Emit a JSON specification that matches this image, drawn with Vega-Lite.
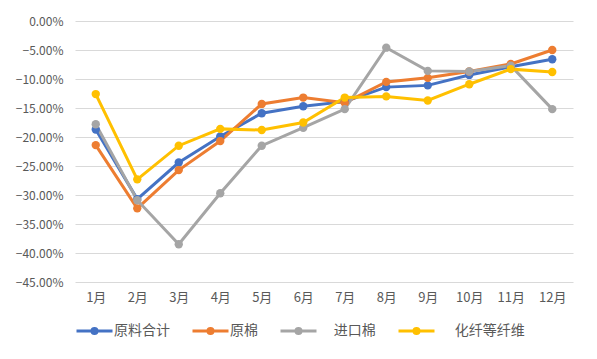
{
  "$schema": "https://vega.github.io/schema/vega-lite/v6.json",
  "width": 498,
  "height": 261,
  "autosize": "none",
  "padding": {"left": 75, "top": 21, "right": 24, "bottom": 77},
  "background": "white",
  "config": {
    "view": {"stroke": null},
    "font": "Noto Sans CJK SC"
  },
  "datasets": {
    "d": [
      {"m": "1月", "s": "原料合计", "v": -0.187},
      {"m": "2月", "s": "原料合计", "v": -0.307},
      {"m": "3月", "s": "原料合计", "v": -0.244},
      {"m": "4月", "s": "原料合计", "v": -0.199},
      {"m": "5月", "s": "原料合计", "v": -0.159},
      {"m": "6月", "s": "原料合计", "v": -0.147},
      {"m": "7月", "s": "原料合计", "v": -0.139},
      {"m": "8月", "s": "原料合计", "v": -0.114},
      {"m": "9月", "s": "原料合计", "v": -0.111},
      {"m": "10月", "s": "原料合计", "v": -0.093},
      {"m": "11月", "s": "原料合计", "v": -0.079},
      {"m": "12月", "s": "原料合计", "v": -0.066},
      {"m": "1月", "s": "原棉", "v": -0.214},
      {"m": "2月", "s": "原棉", "v": -0.323},
      {"m": "3月", "s": "原棉", "v": -0.257},
      {"m": "4月", "s": "原棉", "v": -0.207},
      {"m": "5月", "s": "原棉", "v": -0.143},
      {"m": "6月", "s": "原棉", "v": -0.132},
      {"m": "7月", "s": "原棉", "v": -0.141},
      {"m": "8月", "s": "原棉", "v": -0.105},
      {"m": "9月", "s": "原棉", "v": -0.098},
      {"m": "10月", "s": "原棉", "v": -0.087},
      {"m": "11月", "s": "原棉", "v": -0.074},
      {"m": "12月", "s": "原棉", "v": -0.050},
      {"m": "1月", "s": "进口棉", "v": -0.178},
      {"m": "2月", "s": "进口棉", "v": -0.309},
      {"m": "3月", "s": "进口棉", "v": -0.385},
      {"m": "4月", "s": "进口棉", "v": -0.297},
      {"m": "5月", "s": "进口棉", "v": -0.215},
      {"m": "6月", "s": "进口棉", "v": -0.184},
      {"m": "7月", "s": "进口棉", "v": -0.152},
      {"m": "8月", "s": "进口棉", "v": -0.046},
      {"m": "9月", "s": "进口棉", "v": -0.086},
      {"m": "10月", "s": "进口棉", "v": -0.087},
      {"m": "11月", "s": "进口棉", "v": -0.077},
      {"m": "12月", "s": "进口棉", "v": -0.152},
      {"m": "1月", "s": "化纤等纤维", "v": -0.126},
      {"m": "2月", "s": "化纤等纤维", "v": -0.273},
      {"m": "3月", "s": "化纤等纤维", "v": -0.215},
      {"m": "4月", "s": "化纤等纤维", "v": -0.186},
      {"m": "5月", "s": "化纤等纤维", "v": -0.188},
      {"m": "6月", "s": "化纤等纤维", "v": -0.175},
      {"m": "7月", "s": "化纤等纤维", "v": -0.132},
      {"m": "8月", "s": "化纤等纤维", "v": -0.130},
      {"m": "9月", "s": "化纤等纤维", "v": -0.137},
      {"m": "10月", "s": "化纤等纤维", "v": -0.109},
      {"m": "11月", "s": "化纤等纤维", "v": -0.083},
      {"m": "12月", "s": "化纤等纤维", "v": -0.088}
    ]
  },
  "data": {"name": "d"},
  "encoding": {
    "x": {
      "field": "m", "type": "ordinal",
      "sort": ["1月","2月","3月","4月","5月","6月","7月","8月","9月","10月","11月","12月"],
      "scale": {"type": "point", "padding": 0.5},
      "axis": {"title": null, "domain": false, "ticks": false, "grid": false, "labelAngle": 0, "labelPadding": 9, "labelFontSize": 13, "labelColor": "#595959"}
    },
    "y": {
      "field": "v", "type": "quantitative",
      "scale": {"domain": [-0.45, 0], "nice": false},
      "axis": {"title": null, "format": ".2%", "values": [0, -0.05, -0.1, -0.15, -0.2, -0.25, -0.3, -0.35, -0.4, -0.45], "domain": false, "ticks": false, "grid": true, "gridColor": "#d9d9d9", "gridWidth": 1, "labelPadding": 12, "labelFontSize": 12, "labelColor": "#595959"}
    },
    "color": {
      "field": "s", "type": "nominal",
      "sort": ["原料合计", "原棉", "进口棉", "化纤等纤维"],
      "scale": {"domain": ["原料合计", "原棉", "进口棉", "化纤等纤维"], "range": ["#4472C4", "#ED7D31", "#A5A5A5", "#FFC000"]},
      "legend": {
        "title": null,
        "orient": "none",
        "direction": "horizontal",
        "legendX": 0,
        "legendY": 290,
        "padding": 0,
        "symbolType": "M-1,0L1,0M-0.14,0A0.14,0.14 0 1,1 0.14,0A0.14,0.14 0 1,1 -0.14,0Z",
        "symbolSize": 1296,
        "symbolStrokeWidth": 3,
        "labelFontSize": 14,
        "labelColor": "#595959",
        "labelOffset": 0,
        "columnPadding": 16,
        "labelExpr": "datum.label == '进口棉' ? '\u200b\u00a0\u00a0\u00a0\u00a0\u00a0进口棉' : datum.label == '化纤等纤维' ? '\u200b\u00a0\u00a0\u00a0\u00a0\u00a0\u00a0化纤等纤维' : datum.label"
      }
    }
  },
  "layer": [
    {"mark": {"type": "line", "strokeWidth": 3}},
    {"mark": {"type": "point", "filled": true, "size": 70, "opacity": 1}}
  ]
}
